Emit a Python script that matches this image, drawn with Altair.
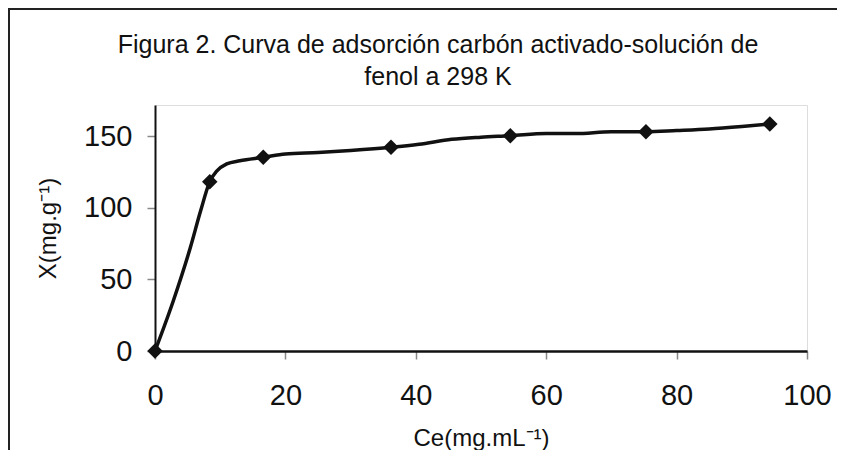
import altair as alt
import pandas as pd

# Measured (marked) points
marker_x = [0, 8.4, 16.6, 36.2, 54.5, 75.3, 94.3]
marker_y = [0, 118.4, 135.4, 142.4, 150.5, 153.3, 158.7]

# Points along the drawn curve
line_x = [0, 2.8, 5.4, 7.0, 8.4, 9.5, 11.0, 13.0, 16.6, 20.0, 25.0, 30.0, 36.2,
          40.5, 45.5, 50.0, 54.5, 60.0, 64.5, 70.0, 75.3, 80.0, 85.0, 90.0, 94.3]
line_y = [0, 35, 72, 98, 118.4, 126, 130.8, 133, 135.4, 137.8, 138.8, 140.2, 142.4,
          144.5, 148, 149.5, 150.5, 152, 152, 153.3, 153.3, 154.2, 155.3, 157, 158.7]

x_ticks = [0, 20, 40, 60, 80, 100]
y_ticks = [0, 50, 100, 150]

title_lines = ["Figura 2. Curva de adsorción carbón activado-solución de", "fenol a 298 K"]
x_title = "Ce(mg.mL⁻¹)"
y_title = "X(mg.g⁻¹)"

FONT = "Liberation Sans"

pts = pd.DataFrame({"x": marker_x, "y": marker_y})
curve = pd.DataFrame({"x": line_x, "y": line_y})

xs = alt.Scale(domain=[0, 100], nice=False, zero=False)
ys = alt.Scale(domain=[0, 172], nice=False)

x_axis = alt.Axis(values=x_ticks, title=x_title, grid=False, tickSize=8, labelFlush=False,
                  tickColor="#888888", tickWidth=1.5, domainColor="#111111", domainWidth=2.5,
                  labelFontSize=29, labelPadding=22, labelColor="#111111", labelFont=FONT,
                  titleFontSize=24, titleFont=FONT, titleFontWeight="normal", titleColor="#111111",
                  titleY=87, titleBaseline="middle")
y_axis = alt.Axis(values=y_ticks, title=y_title, grid=False, tickSize=8, labelFlush=False,
                  tickColor="#888888", tickWidth=1.5, domainColor="#111111", domainWidth=2,
                  labelFontSize=29, labelPadding=15, labelColor="#111111", labelFont=FONT,
                  titleFontSize=24, titleFont=FONT, titleFontWeight="normal", titleColor="#111111",
                  titleX=-107, titleBaseline="middle", titleAngle=270)

line = alt.Chart(curve).mark_line(color="#111111", strokeWidth=3.5, interpolate="monotone").encode(
    x=alt.X("x:Q", scale=xs, axis=x_axis),
    y=alt.Y("y:Q", scale=ys, axis=y_axis),
)

markers = alt.Chart(pts).mark_point(shape="diamond", filled=True, size=240,
                                    color="#111111", opacity=1).encode(
    x=alt.X("x:Q", scale=xs),
    y=alt.Y("y:Q", scale=ys),
)

one = alt.Data(values=[{"a": 1}])

border = alt.Chart(one).mark_rect(
    filled=False, stroke="#222222", strokeWidth=2
).encode(x=alt.value(-146), x2=alt.value(720), y=alt.value(-96), y2=alt.value(420))

title = alt.Chart(one).mark_text(
    font=FONT, fontSize=25, color="#111111", align="center", baseline="top", lineHeight=32
).encode(x=alt.value(283), y=alt.value(-72), text=alt.value(title_lines))

chart = alt.layer(border, line, markers, title).properties(
    width=652, height=246,
    autosize=alt.AutoSizeParams(type="none"),
    padding={"left": 147, "top": 97, "right": 30, "bottom": 99},
).configure_view(stroke="#333333", strokeWidth=1.5).configure(background="white")

chart.save("out.html", embed_options={"renderer": "svg", "actions": False})
